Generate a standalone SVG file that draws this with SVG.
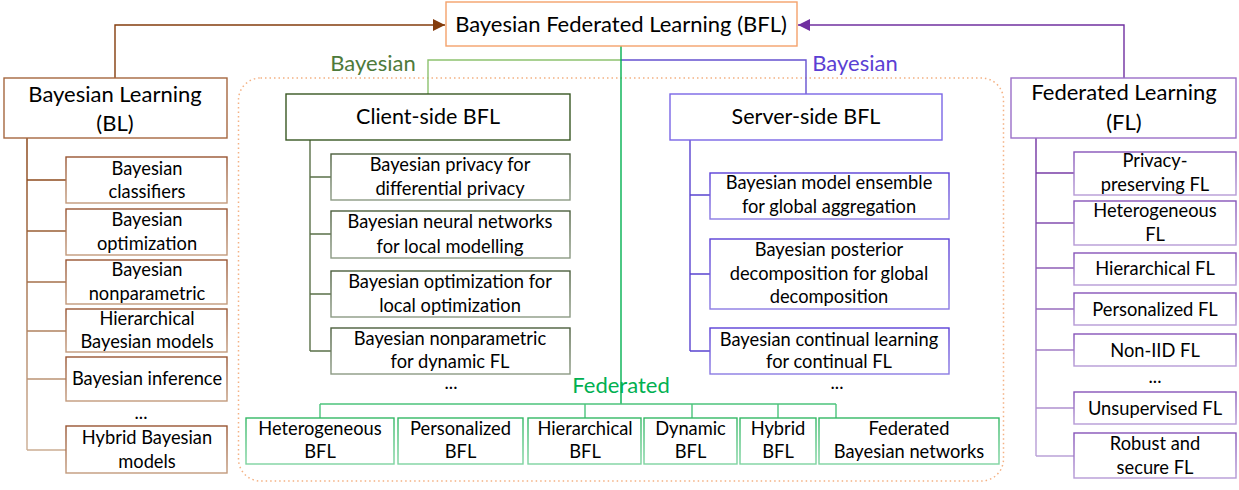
<svg xmlns="http://www.w3.org/2000/svg" width="1239" height="490" viewBox="0 0 1239 490">
<defs>
<style>
text{font-family:Lato,"Liberation Sans",sans-serif;fill:#000;text-anchor:middle}
.h{font-size:22px}
.h2{font-size:21.5px}
.t{font-size:18.3px}
.box{fill:#fff;stroke-width:1.4}
.ln{fill:none;stroke-width:1.4}
</style>
<linearGradient id="gBrownLn" gradientUnits="userSpaceOnUse" x1="0" y1="138" x2="0" y2="460">
<stop offset="0" stop-color="#843C0C"/><stop offset="1" stop-color="#CDB097"/></linearGradient>
<linearGradient id="gPurpleLn" gradientUnits="userSpaceOnUse" x1="0" y1="138" x2="0" y2="460">
<stop offset="0" stop-color="#7030A0"/><stop offset="1" stop-color="#BBA3D8"/></linearGradient>
<linearGradient id="gBrownBox" x1="0" y1="0" x2="0" y2="1">
<stop offset="0" stop-color="#985431"/><stop offset="1" stop-color="#C29A7C"/></linearGradient>
<linearGradient id="gPurpleBox" x1="0" y1="0" x2="0" y2="1">
<stop offset="0" stop-color="#8653B8"/><stop offset="1" stop-color="#B69BD6"/></linearGradient>
<linearGradient id="gGreenBox" x1="0" y1="0" x2="0" y2="1">
<stop offset="0" stop-color="#33B865"/><stop offset="1" stop-color="#7ED3A0"/></linearGradient>
<linearGradient id="gClientBox" x1="0" y1="0" x2="0" y2="1">
<stop offset="0" stop-color="#4B5E3C"/><stop offset="1" stop-color="#8C9A84"/></linearGradient>
<linearGradient id="gServerBox" x1="0" y1="0" x2="0" y2="1">
<stop offset="0" stop-color="#5A3FD6"/><stop offset="1" stop-color="#8B7BE3"/></linearGradient>
<marker id="aBrown" viewBox="0 0 10 10" refX="10" refY="5" markerUnits="userSpaceOnUse" markerWidth="12" markerHeight="12" orient="auto">
<path d="M0,0 L10,5 L0,10 z" fill="#843C0C"/></marker>
<marker id="aPurple" viewBox="0 0 10 10" refX="10" refY="5" markerUnits="userSpaceOnUse" markerWidth="12" markerHeight="12" orient="auto">
<path d="M0,0 L10,5 L0,10 z" fill="#7030A0"/></marker>
</defs>
<rect width="1239" height="490" fill="#fff"/>

<rect id="container" x="238.5" y="78" width="765" height="403" rx="22" fill="none" stroke="#F4B183" stroke-width="1.5" stroke-dasharray="1.5 3"/>

<g id="connectors">
<path class="ln" d="M115,78 V25 H445" stroke="#843C0C" marker-end="url(#aBrown)"/>
<path class="ln" d="M1124,78 V25 H798" stroke="#7030A0" marker-end="url(#aPurple)"/>
<path class="ln" d="M621,60 H428 V94" stroke="#8DC26F"/>
<path class="ln" d="M621,60 H806 V94" stroke="#6652D0"/>
<path class="ln" d="M621,46 V404" stroke="#00B050" stroke-width="1.6"/>
<path class="ln" d="M310,140 V351 M310,177 H331 M310,234 H331 M310,294 H331 M310,351 H331" stroke="#5A7048"/>
<path class="ln" d="M690,140 V351 M690,195 H710 M690,274 H710 M690,351 H710" stroke="#5A44D0"/>
<path class="ln" d="M320,404 H836 M320,404 V418 M585,404 V418 M692,404 V418 M778,404 V418 M836,404 V418" stroke="#4CC47C"/>
<path class="ln" d="M27,138 V450 M27,180 H66 M27,231 H66 M27,282 H66 M27,331 H66 M27,379 H66 M27,450 H66" stroke="url(#gBrownLn)"/>
<path class="ln" d="M1036,138 V456 M1036,173 H1074 M1036,223 H1074 M1036,268 H1074 M1036,309 H1074 M1036,350 H1074 M1036,408 H1074 M1036,456 H1074" stroke="url(#gPurpleLn)"/>
</g>

<g id="labels">
<text class="h" x="373" y="71" style="fill:#4E7A3A">Bayesian</text>
<text class="h" x="855" y="71" style="fill:#5B3FD3">Bayesian</text>
<text class="h" x="621" y="393" style="fill:#00B050">Federated</text>
</g>

<g id="bfl"><rect class="box" x="446" y="2" width="351" height="44" stroke="#F4A26B"/>
<text class="h" x="621" y="32">Bayesian Federated Learning (BFL)</text></g>

<g id="bl"><rect class="box" x="4" y="78" width="223" height="60" stroke="#A5673F"/>
<text class="h" x="115" y="102">Bayesian Learning</text><text class="h" x="115" y="131">(BL)</text></g>

<g id="bl1"><rect class="box" x="66" y="157" width="161" height="46" stroke="url(#gBrownBox)"/>
<text class="t" x="147" y="175">Bayesian</text><text class="t" x="147" y="198">classifiers</text></g>
<g id="bl2"><rect class="box" x="66" y="209" width="161" height="46" stroke="url(#gBrownBox)"/>
<text class="t" x="147" y="226">Bayesian</text><text class="t" x="147" y="250">optimization</text></g>
<g id="bl3"><rect class="box" x="66" y="260" width="161" height="44" stroke="url(#gBrownBox)"/>
<text class="t" x="147" y="276">Bayesian</text><text class="t" x="147" y="300">nonparametric</text></g>
<g id="bl4"><rect class="box" x="66" y="309" width="161" height="43" stroke="url(#gBrownBox)"/>
<text class="t" x="147" y="325">Hierarchical</text><text class="t" x="147" y="348">Bayesian models</text></g>
<g id="bl5"><rect class="box" x="66" y="357" width="161" height="44" stroke="url(#gBrownBox)"/>
<text class="t" x="147" y="385">Bayesian inference</text></g>
<text class="t" x="141" y="419">...</text>
<g id="bl6"><rect class="box" x="66" y="426" width="161" height="47" stroke="url(#gBrownBox)"/>
<text class="t" x="147" y="444">Hybrid Bayesian</text><text class="t" x="147" y="468">models</text></g>

<g id="client"><rect class="box" x="286" y="94" width="284" height="46" stroke="#385723"/>
<text class="h2" x="428" y="124">Client-side BFL</text></g>
<g id="c1"><rect class="box" x="331" y="154" width="239" height="46" stroke="url(#gClientBox)"/>
<text class="t" x="450" y="171">Bayesian privacy for</text><text class="t" x="450" y="195">differential privacy</text></g>
<g id="c2"><rect class="box" x="331" y="211" width="239" height="47" stroke="url(#gClientBox)"/>
<text class="t" x="450" y="228">Bayesian neural networks</text><text class="t" x="450" y="253">for local modelling</text></g>
<g id="c3"><rect class="box" x="331" y="271" width="239" height="46" stroke="url(#gClientBox)"/>
<text class="t" x="450" y="288">Bayesian optimization for</text><text class="t" x="450" y="312">local optimization</text></g>
<g id="c4"><rect class="box" x="331" y="328" width="239" height="46" stroke="url(#gClientBox)"/>
<text class="t" x="450" y="345">Bayesian nonparametric</text><text class="t" x="450" y="368">for dynamic FL</text></g>
<text class="t" x="451" y="389">...</text>

<g id="server"><rect class="box" x="670" y="94" width="272" height="46" stroke="#7A66E6"/>
<text class="h2" x="806" y="124">Server-side BFL</text></g>
<g id="s1"><rect class="box" x="710" y="173" width="239" height="46" stroke="url(#gServerBox)"/>
<text class="t" x="829" y="189">Bayesian model ensemble</text><text class="t" x="829" y="213">for global aggregation</text></g>
<g id="s2"><rect class="box" x="710" y="239" width="239" height="70" stroke="url(#gServerBox)"/>
<text class="t" x="829" y="256">Bayesian posterior</text><text class="t" x="829" y="280">decomposition for global</text><text class="t" x="829" y="303">decomposition</text></g>
<g id="s3"><rect class="box" x="710" y="328" width="239" height="46" stroke="url(#gServerBox)"/>
<text class="t" x="829" y="346">Bayesian continual learning</text><text class="t" x="829" y="368">for continual FL</text></g>
<text class="t" x="837" y="389">...</text>

<g id="fl"><rect class="box" x="1011" y="78" width="225" height="60" stroke="#9B6FC8"/>
<text class="h" x="1124" y="100">Federated Learning</text><text class="h" x="1124" y="130">(FL)</text></g>
<g id="f1"><rect class="box" x="1074" y="152" width="162" height="43" stroke="url(#gPurpleBox)"/>
<text class="t" x="1155" y="167">Privacy-</text><text class="t" x="1155" y="191">preserving FL</text></g>
<g id="f2"><rect class="box" x="1074" y="201" width="162" height="44" stroke="url(#gPurpleBox)"/>
<text class="t" x="1155" y="217">Heterogeneous</text><text class="t" x="1155" y="241">FL</text></g>
<g id="f3"><rect class="box" x="1074" y="253" width="162" height="32" stroke="url(#gPurpleBox)"/>
<text class="t" x="1155" y="275">Hierarchical FL</text></g>
<g id="f4"><rect class="box" x="1074" y="293" width="162" height="32" stroke="url(#gPurpleBox)"/>
<text class="t" x="1155" y="316">Personalized FL</text></g>
<g id="f5"><rect class="box" x="1074" y="334" width="162" height="32" stroke="url(#gPurpleBox)"/>
<text class="t" x="1155" y="357">Non-IID FL</text></g>
<text class="t" x="1155" y="383">...</text>
<g id="f6"><rect class="box" x="1074" y="392" width="162" height="32" stroke="url(#gPurpleBox)"/>
<text class="t" x="1155" y="415">Unsupervised FL</text></g>
<g id="f7"><rect class="box" x="1074" y="433" width="162" height="45" stroke="url(#gPurpleBox)"/>
<text class="t" x="1155" y="450">Robust and</text><text class="t" x="1155" y="474">secure FL</text></g>

<g id="b1"><rect class="box" x="246" y="418" width="148" height="46" stroke="url(#gGreenBox)"/>
<text class="t" x="320" y="435">Heterogeneous</text><text class="t" x="320" y="458">BFL</text></g>
<g id="b2"><rect class="box" x="398" y="418" width="125" height="46" stroke="url(#gGreenBox)"/>
<text class="t" x="460.5" y="435">Personalized</text><text class="t" x="460.5" y="458">BFL</text></g>
<g id="b3"><rect class="box" x="528" y="418" width="113" height="46" stroke="url(#gGreenBox)"/>
<text class="t" x="585" y="435">Hierarchical</text><text class="t" x="585" y="458">BFL</text></g>
<g id="b4"><rect class="box" x="644" y="418" width="93" height="46" stroke="url(#gGreenBox)"/>
<text class="t" x="690.5" y="435">Dynamic</text><text class="t" x="690.5" y="458">BFL</text></g>
<g id="b5"><rect class="box" x="740" y="418" width="76" height="46" stroke="url(#gGreenBox)"/>
<text class="t" x="778" y="435">Hybrid</text><text class="t" x="778" y="458">BFL</text></g>
<g id="b6"><rect class="box" x="819" y="418" width="180" height="46" stroke="url(#gGreenBox)"/>
<text class="t" x="909" y="435">Federated</text><text class="t" x="909" y="458">Bayesian networks</text></g>
</svg>
